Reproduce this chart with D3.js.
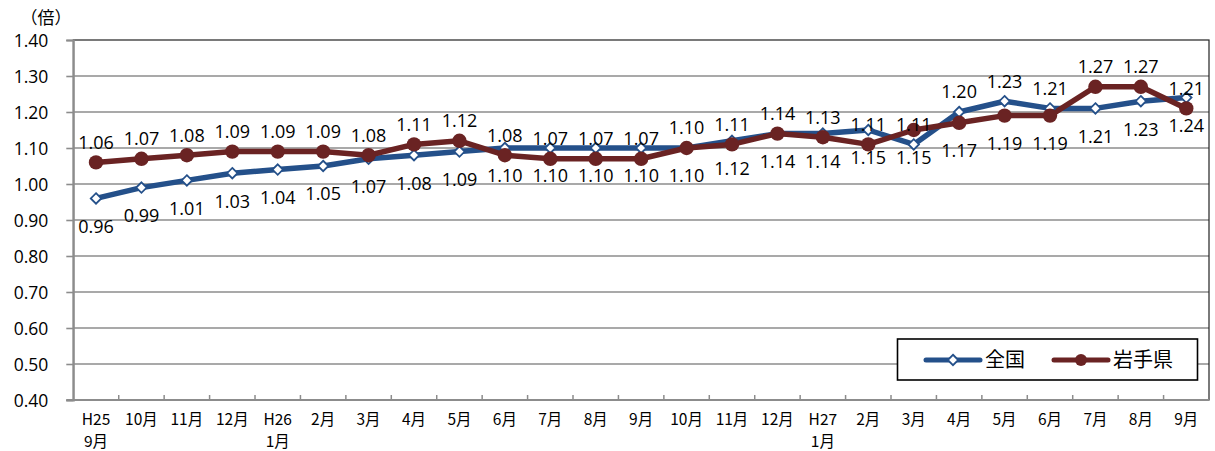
<!DOCTYPE html>
<html><head><meta charset="utf-8">
<script src="https://cdn.jsdelivr.net/npm/d3@7"></script>
<style>
html,body{margin:0;padding:0;background:#fff;}
svg{display:block;}
</style></head>
<body>
<svg id="chart" width="1215" height="451"></svg>
<script>
// ---- data ----
const categories = [
  ["H25","9月"],["10月"],["11月"],["12月"],["H26","1月"],["2月"],["3月"],["4月"],["5月"],["6月"],
  ["7月"],["8月"],["9月"],["10月"],["11月"],["12月"],["H27","1月"],["2月"],["3月"],["4月"],
  ["5月"],["6月"],["7月"],["8月"],["9月"]
];
const zenkoku = [0.96,0.99,1.01,1.03,1.04,1.05,1.07,1.08,1.09,1.10,1.10,1.10,1.10,1.10,1.12,1.14,1.14,1.15,1.11,1.20,1.23,1.21,1.21,1.23,1.24];
const iwate   = [1.06,1.07,1.08,1.09,1.09,1.09,1.08,1.11,1.12,1.08,1.07,1.07,1.07,1.10,1.11,1.14,1.13,1.11,1.15,1.17,1.19,1.19,1.27,1.27,1.21];
const yTicks = [0.40,0.50,0.60,0.70,0.80,0.90,1.00,1.10,1.20,1.30,1.40];
const seriesNames = ["全国","岩手県"];
const unitLabel = "（倍）";
// label side per point (style): a = above, b = below
const zenkokuLabelSide = "bbbbbbbbbbbbbbbbbbaaaabbb".split("");
const iwateLabelSide   = "aaaaaaaaaaaaaaaaaabbbbaaa".split("");

// ---- layout ----
const BLUE = "#24508a", RED = "#6a2323", GRID = "#8c8c8c";
const pL = 73.3, pR = 1209, pT = 40, pB = 400;
const svg = d3.select("#chart");

const x = d3.scaleBand().domain(d3.range(categories.length)).range([pL, pR]).padding(0);
const cx = i => x(i) + x.bandwidth() / 2;
const y = d3.scaleLinear().domain([0.4, 1.4]).range([pB, pT]);
const fmt = d3.format(".2f");

// gridlines
svg.append("g").selectAll("line").data(yTicks.filter(t => t > 0.4 && t < 1.4)).join("line")
  .attr("x1", pL).attr("x2", pR).attr("y1", d => y(d)).attr("y2", d => y(d))
  .attr("stroke", GRID).attr("stroke-width", 1.6);

// plot border (top/right)
svg.append("rect").attr("x", pL).attr("y", pT).attr("width", pR - pL).attr("height", pB - pT)
  .attr("fill", "none").attr("stroke", "#222").attr("stroke-width", 1.2);

// y axis
const yAxis = d3.axisLeft(y).tickValues(yTicks).tickFormat(fmt).tickSize(7).tickPadding(18);
const gy = svg.append("g").attr("transform", `translate(${pL},0)`).call(yAxis);
gy.select(".domain").attr("stroke", GRID).attr("stroke-width", 2);
gy.selectAll(".tick line").attr("stroke", GRID).attr("stroke-width", 1.6);
gy.selectAll(".tick text").attr("font-family", "'Open Sans', sans-serif").attr("font-size", 17.5)
  .attr("fill", "#000").attr("dy", "0.36em");

// x axis line and inner ticks
const gx = svg.append("g");
gx.append("line").attr("x1", pL - 7).attr("x2", pR).attr("y1", pB).attr("y2", pB)
  .attr("stroke", GRID).attr("stroke-width", 2);
gx.selectAll("line.tk").data(d3.range(1, categories.length)).join("line").attr("class", "tk")
  .attr("x1", i => x(i)).attr("x2", i => x(i)).attr("y1", pB).attr("y2", pB - 5)
  .attr("stroke", GRID).attr("stroke-width", 1.5);
const cl = gx.selectAll("text").data(categories).join("text")
  .attr("font-family", "'Noto Sans CJK JP', sans-serif").attr("font-size", 15.5)
  .attr("text-anchor", "middle").attr("fill", "#000");
cl.each(function(d, i) {
  const t = d3.select(this);
  d.forEach((s, k) => t.append("tspan").attr("x", cx(i)).attr("y", 424.5 + k * 22).text(s));
});

// unit label
svg.append("text").attr("x", 46).attr("y", 23.5).attr("text-anchor", "middle")
  .attr("font-family", "'Noto Sans CJK JP', sans-serif").attr("font-size", 17).attr("fill", "#000").text(unitLabel);

// lines
const line = d3.line().x((d, i) => cx(i)).y(d => y(d));
svg.append("path").datum(zenkoku).attr("d", line).attr("fill", "none").attr("stroke", BLUE)
  .attr("stroke-width", 5.5).attr("stroke-linejoin", "round").attr("stroke-linecap", "round");
svg.append("path").datum(iwate).attr("d", line).attr("fill", "none").attr("stroke", RED)
  .attr("stroke-width", 5.5).attr("stroke-linejoin", "round").attr("stroke-linecap", "round");

// markers
const diamond = d3.symbol().type(d3.symbolDiamond2).size(70);
svg.append("g").selectAll("path").data(zenkoku).join("path")
  .attr("d", diamond).attr("transform", (d, i) => `translate(${cx(i)},${y(d)})`)
  .attr("fill", "#fff").attr("stroke", BLUE).attr("stroke-width", 1.8);
svg.append("g").selectAll("circle").data(iwate).join("circle")
  .attr("cx", (d, i) => cx(i)).attr("cy", d => y(d)).attr("r", 7.2).attr("fill", RED);

// data labels
function labels(data, sides) {
  svg.append("g").selectAll("text").data(data).join("text")
    .attr("x", (d, i) => cx(i))
    .attr("y", (d, i) => y(d) + (sides[i] === "a" ? -20 : 28))
    .attr("dy", "0.36em").attr("text-anchor", "middle")
    .attr("font-family", "'Open Sans', sans-serif").attr("font-size", 18).attr("fill", "#000")
    .text(d => fmt(d));
}
labels(iwate, iwateLabelSide);
labels(zenkoku, zenkokuLabelSide);

// legend
const lg = svg.append("g");
lg.append("rect").attr("x", 897.5).attr("y", 339).attr("width", 300).attr("height", 41)
  .attr("fill", "#fff").attr("stroke", "#000").attr("stroke-width", 1.6);
const ly = 360;
lg.append("line").attr("x1", 926).attr("x2", 980).attr("y1", ly).attr("y2", ly)
  .attr("stroke", BLUE).attr("stroke-width", 5).attr("stroke-linecap", "round");
lg.append("path").attr("d", diamond).attr("transform", `translate(953,${ly})`)
  .attr("fill", "#fff").attr("stroke", BLUE).attr("stroke-width", 1.8);
lg.append("text").attr("x", 985).attr("y", ly).attr("dy", "0.36em")
  .attr("font-family", "'Noto Sans CJK JP', sans-serif").attr("font-size", 20).text(seriesNames[0]);
lg.append("line").attr("x1", 1054).attr("x2", 1108).attr("y1", ly).attr("y2", ly)
  .attr("stroke", RED).attr("stroke-width", 5).attr("stroke-linecap", "round");
lg.append("circle").attr("cx", 1081).attr("cy", ly).attr("r", 6).attr("fill", RED);
lg.append("text").attr("x", 1113).attr("y", ly).attr("dy", "0.36em")
  .attr("font-family", "'Noto Sans CJK JP', sans-serif").attr("font-size", 20).text(seriesNames[1]);
</script>
</body></html>
